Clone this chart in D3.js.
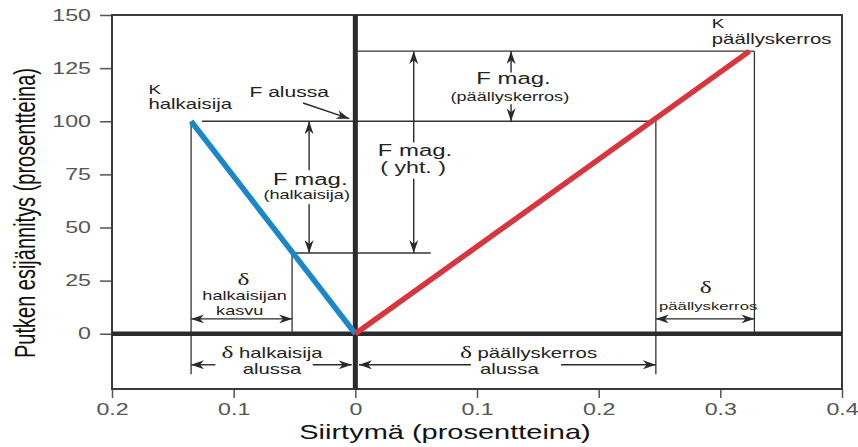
<!doctype html>
<html>
<head>
<meta charset="utf-8">
<title>Putken esijännitys</title>
<script src="https://cdn.jsdelivr.net/npm/d3@7"></script>
<style>
  body { margin: 0; background: #fff; }
  text { font-family: "Liberation Sans", Arial, sans-serif; }
  tspan.greek { font-family: "Liberation Serif", "DejaVu Serif", serif; }
</style>
</head>
<body>
<script>
  // data
  const xTicks = [-0.2, -0.1, 0, 0.1, 0.2, 0.3, 0.4];
  const xTickLabels = ['0.2', '0.1', '0', '0.1', '0.2', '0.3', '0.4'];
  const yTicks = [0, 25, 50, 75, 100, 125, 150];

  // K halkaisija (blue) and K päällyskerros (red)
  const halkaisija = [[-0.135, 100], [0, 0]];
  const paallyskerros = [[0, 0], [0.324, 133]];

  // thin guide lines [x1, y1, x2, y2]
  const guides = [
    [0, 133, 0.328, 133],
    [-0.126, 100, 0.247, 100],
    [-0.052, 38, 0.062, 38],
    [-0.135, 100, -0.135, -19],
    [-0.052, 38, -0.052, 0],
    [0.247, 100, 0.247, -19],
    [0.328, 133, 0.328, 0]
  ];

  // arrows [x1, y1, x2, y2, doubleHeaded]
  const arrows = [
    [-0.043, 108.6, -0.005, 101.2, false],
    [-0.038, 77, -0.038, 100, false],
    [-0.038, 61, -0.038, 38, false],
    [0.048, 90, 0.048, 133, false],
    [0.048, 73, 0.048, 38, false],
    [0.128, 123, 0.128, 133, false],
    [0.128, 108, 0.128, 100, false],
    [-0.135, 7, -0.052, 7, true],
    [-0.115, -14.6, -0.135, -14.6, false],
    [-0.035, -14.6, -0.003, -14.6, false],
    [0.095, -14.6, 0.003, -14.6, false],
    [0.169, -14.6, 0.247, -14.6, false],
    [0.247, 7, 0.328, 7, true]
  ];

  // annotation texts [text, x, y, font size, anchor]
  const notes = [
    ['K', -0.170, 113, 13, 'start'],
    ['halkaisija', -0.170, 106, 14, 'start'],
    ['F alussa', -0.087, 111.4, 14.5, 'start'],
    ['F mag.', -0.037, 70.2, 16.5, 'middle'],
    ['(halkaisija)', -0.040, 63.6, 12.5, 'middle'],
    ['F mag.', 0.049, 83.6, 16.5, 'middle'],
    ['( yht. )', 0.0475, 75.6, 16, 'middle'],
    ['F mag.', 0.130, 117.3, 16.5, 'middle'],
    ['(päällyskerros)', 0.127, 109.5, 12.5, 'middle'],
    ['K', 0.293, 144, 13, 'start'],
    ['päällyskerros', 0.293, 136.4, 14, 'start'],
    ['δ', -0.092, 23, 14, 'middle'],
    ['halkaisijan', -0.091, 15.9, 12.5, 'middle'],
    ['kasvu', -0.095, 8.8, 12.5, 'middle'],
    ['δ halkaisija', -0.0685, -11.4, 14, 'middle'],
    ['alussa', -0.0685, -18.9, 14, 'middle'],
    ['δ päällyskerros', 0.086, -11.4, 14, 'start'],
    ['alussa', 0.1025, -18.9, 14, 'start'],
    ['δ', 0.288, 19.3, 14, 'middle'],
    ['päällyskerros', 0.290, 11.2, 11.5, 'middle']
  ];

  const width = 858;
  const height = 447;
  const SX = 1.45; // text in the picture is stretched sideways

  const svg = d3.select('body').append('svg')
      .attr('width', width)
      .attr('height', height);

  const x = d3.scaleLinear().domain([-0.2, 0.4]).range([112, 842]);
  const y = d3.scaleLinear().domain([-26, 150]).range([389, 15]);

  svg.append('defs').append('marker')
      .attr('id', 'head')
      .attr('markerUnits', 'userSpaceOnUse')
      .attr('markerWidth', 13)
      .attr('markerHeight', 9)
      .attr('refX', 13)
      .attr('refY', 4.5)
      .attr('orient', 'auto-start-reverse')
    .append('path')
      .attr('d', 'M0,0 L13,4.5 L0,9 L4,4.5 Z')
      .attr('fill', '#2a2a2a');

  function label(txt, px, py, size, anchor, color) {
    const t = svg.append('text')
        .attr('transform', `translate(${px},${py}) scale(${SX},1)`)
        .attr('font-size', size)
        .attr('text-anchor', anchor || 'start')
        .attr('fill', color || '#222');
    if (txt.startsWith('δ')) {
      // the delta is set in a serif face in the original
      t.append('tspan').attr('class', 'greek')
          .attr('font-size', size * 1.25).text('δ');
      t.append('tspan').text(txt.slice(1));
    } else {
      t.text(txt);
    }
    return t;
  }

  // axes
  svg.append('g')
      .attr('transform', `translate(${x(-0.2)},0)`)
      .call(d3.axisLeft(y).tickValues(yTicks).tickSize(12).tickSizeOuter(0))
      .call(g => {
        g.select('.domain').remove();
        g.selectAll('line').attr('stroke', '#555').attr('stroke-width', 1.5);
        g.selectAll('text')
            .attr('x', -21 / SX)
            .attr('transform', `scale(${SX},1)`)
            .attr('font-size', 16)
            .attr('fill', '#555');
      });

  svg.append('g')
      .attr('transform', `translate(0,${y(-26)})`)
      .call(d3.axisBottom(x).tickValues(xTicks)
        .tickFormat((d, i) => xTickLabels[i]).tickSize(9).tickSizeOuter(0))
      .call(g => {
        g.select('.domain').remove();
        g.selectAll('line').attr('stroke', '#555').attr('stroke-width', 1.5);
        g.selectAll('text')
            .attr('y', 26).attr('dy', 0)
            .attr('transform', `scale(${SX},1)`)
            .attr('font-size', 16)
            .attr('fill', '#555');
      });

  // frame
  svg.append('rect')
      .attr('x', x(-0.2)).attr('y', y(150))
      .attr('width', x(0.4) - x(-0.2)).attr('height', y(-26) - y(150))
      .attr('fill', 'none').attr('stroke', '#3a3a3a').attr('stroke-width', 2);

  // guide lines
  svg.append('g')
      .attr('stroke', '#333').attr('stroke-width', 1.3)
    .selectAll('line')
    .data(guides)
    .enter().append('line')
      .attr('x1', d => x(d[0])).attr('y1', d => y(d[1]))
      .attr('x2', d => x(d[2])).attr('y2', d => y(d[3]));

  // zero lines
  svg.append('line')
      .attr('x1', x(-0.2)).attr('x2', x(0.4))
      .attr('y1', y(0)).attr('y2', y(0))
      .attr('stroke', '#2b2b2b').attr('stroke-width', 4.5);
  svg.append('line')
      .attr('x1', x(0)).attr('x2', x(0))
      .attr('y1', y(150)).attr('y2', y(-26))
      .attr('stroke', '#2b2b2b').attr('stroke-width', 5);

  // K lines
  const line = d3.line().x(d => x(d[0])).y(d => y(d[1]));
  svg.append('path').attr('d', line(halkaisija))
      .attr('fill', 'none').attr('stroke', '#1a87c9').attr('stroke-width', 5.5);
  svg.append('path').attr('d', line(paallyskerros))
      .attr('fill', 'none').attr('stroke', '#d8353f').attr('stroke-width', 5.5);

  // arrows
  svg.append('g')
      .attr('stroke', '#2a2a2a').attr('stroke-width', 1.4)
    .selectAll('line')
    .data(arrows)
    .enter().append('line')
      .attr('x1', d => x(d[0])).attr('y1', d => y(d[1]))
      .attr('x2', d => x(d[2])).attr('y2', d => y(d[3]))
      .attr('marker-end', 'url(#head)')
      .attr('marker-start', d => d[4] ? 'url(#head)' : null);

  // annotations
  notes.forEach(n => label(n[0], x(n[1]), y(n[2]), n[3], n[4]));

  // axis titles
  label('Siirtymä (prosentteina)', 445, 439, 20, 'middle', '#111');
  svg.append('text')
      .attr('transform', `translate(35,213) rotate(-90) scale(1,${SX})`)
      .attr('font-size', 20)
      .attr('text-anchor', 'middle')
      .attr('fill', '#111')
      .text('Putken esijännitys (prosentteina)');
</script>
</body>
</html>
